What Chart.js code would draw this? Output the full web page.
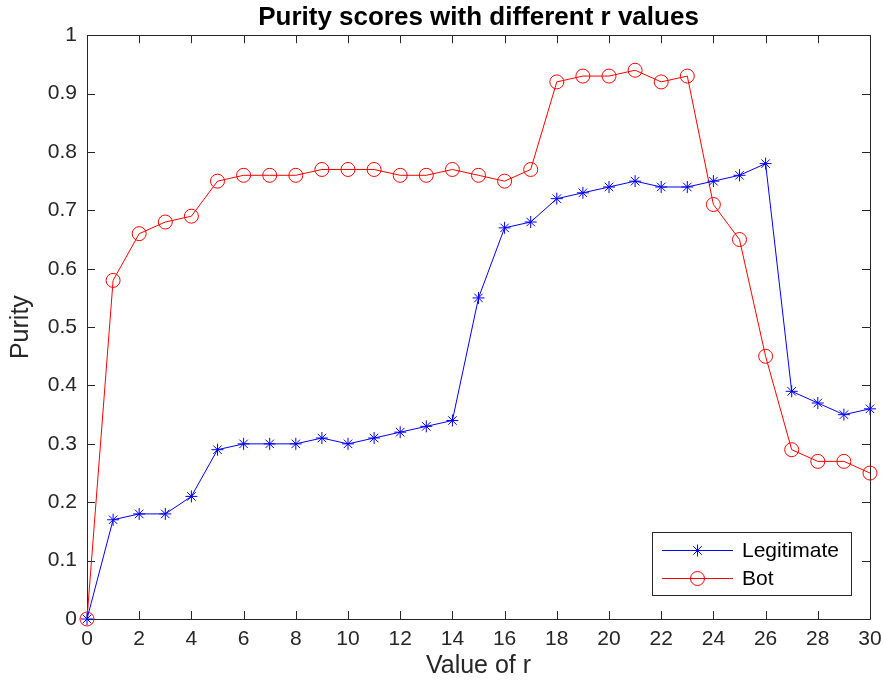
<!DOCTYPE html>
<html>
<head>
<meta charset="utf-8">
<script src="https://cdn.jsdelivr.net/npm/chart.js@4/dist/chart.umd.min.js"></script>
<style>
html,body{margin:0;padding:0;background:#fff;}
canvas{display:block;}
</style>
</head>
<body>
<canvas id="c" width="884" height="693"></canvas>
<script>
const rValues = [0,1,2,3,4,5,6,7,8,9,10,11,12,13,14,15,16,17,18,19,20,21,22,23,24,25,26,27,28,29,30];
const legitimate = [0,0.17,0.18,0.18,0.21,0.29,0.30,0.30,0.30,0.31,0.30,0.31,0.32,0.33,0.34,0.55,0.67,0.68,0.72,0.73,0.74,0.75,0.74,0.74,0.75,0.76,0.78,0.39,0.37,0.35,0.36];
const bot = [0,0.58,0.66,0.68,0.69,0.75,0.76,0.76,0.76,0.77,0.77,0.77,0.76,0.76,0.77,0.76,0.75,0.77,0.92,0.93,0.93,0.94,0.92,0.93,0.71,0.65,0.45,0.29,0.27,0.27,0.25];
const seriesLabels = ['Legitimate','Bot'];
const xTicks = [0,2,4,6,8,10,12,14,16,18,20,22,24,26,28,30];
const yTicks = [0,0.1,0.2,0.3,0.4,0.5,0.6,0.7,0.8,0.9,1];

const FONT = "'Liberation Sans', Arial, Helvetica, sans-serif";
const AX = '#262626';

function pts(vals){ return rValues.map((x,i)=>({x:x,y:vals[i]})); }

const boxPlugin = {
  id:'boxTicks',
  beforeDatasetsDraw(chart){
    const {ctx, chartArea:a, scales:{x,y}} = chart;
    ctx.save();
    ctx.strokeStyle = AX; ctx.lineWidth = 1;
    ctx.beginPath();
    ctx.rect(Math.round(a.left)+0.5, Math.round(a.top)+0.5, Math.round(a.right-a.left), Math.round(a.bottom-a.top));
    ctx.stroke();
    const tl = 8;
    ctx.beginPath();
    xTicks.forEach(v=>{
      const px = Math.round(x.getPixelForValue(v))+0.5;
      ctx.moveTo(px, a.bottom); ctx.lineTo(px, a.bottom-tl);
      ctx.moveTo(px, a.top); ctx.lineTo(px, a.top+tl);
    });
    yTicks.forEach(v=>{
      const py = Math.round(y.getPixelForValue(v))+0.5;
      ctx.moveTo(a.left, py); ctx.lineTo(a.left+tl, py);
      ctx.moveTo(a.right, py); ctx.lineTo(a.right-tl, py);
    });
    ctx.stroke();
    ctx.restore();
  },
  afterDraw(chart){
    const {ctx, chartArea:a} = chart;
    const R = Math.round(a.right) - 19, B = Math.round(a.bottom) - 24;
    const L = R - 199, T = B - 63;
    ctx.save();
    ctx.fillStyle = '#fff';
    ctx.fillRect(L, T, R-L, B-T);
    ctx.strokeStyle = AX; ctx.lineWidth = 1;
    ctx.strokeRect(L+0.5, T+0.5, R-L, B-T);
    chart.data.datasets.forEach((ds,i)=>{
      const yy = T + 18 + i*28 + 0.5;
      ctx.strokeStyle = ds.borderColor; ctx.lineWidth = 1;
      ctx.beginPath(); ctx.moveTo(L+10, yy); ctx.lineTo(L+81, yy); ctx.stroke();
      const cx = L+45.5;
      ctx.beginPath();
      if (ds.pointStyle === 'circle') {
        ctx.arc(cx, yy, ds.pointRadius, 0, Math.PI*2);
      } else {
        const r = ds.pointRadius;
        const d = r*Math.SQRT1_2;
        ctx.moveTo(cx-r,yy); ctx.lineTo(cx+r,yy);
        ctx.moveTo(cx,yy-r); ctx.lineTo(cx,yy+r);
        ctx.moveTo(cx-d,yy-d); ctx.lineTo(cx+d,yy+d);
        ctx.moveTo(cx-d,yy+d); ctx.lineTo(cx+d,yy-d);
      }
      ctx.stroke();
      ctx.fillStyle = '#000';
      ctx.font = '21px ' + FONT;
      ctx.textBaseline = 'middle'; ctx.textAlign = 'left';
      ctx.fillText(ds.label, L+90, yy+1);
    });
    ctx.restore();
  }
};

new Chart(document.getElementById('c'), {
  type:'line',
  data:{
    datasets:[
      {label:seriesLabels[0], data:pts(legitimate), borderColor:'#0000ff', backgroundColor:'#0000ff',
       borderWidth:1, pointStyle:'star', pointRadius:6, pointBorderWidth:1, pointBorderColor:'#0000ff',
       pointBackgroundColor:'#0000ff', tension:0, clip:false},
      {label:seriesLabels[1], data:pts(bot), borderColor:'#ff0000', backgroundColor:'#ff0000',
       borderWidth:1, pointStyle:'circle', pointRadius:7, pointBorderWidth:1, pointBorderColor:'#ff0000',
       pointBackgroundColor:'rgba(0,0,0,0)', tension:0, clip:false}
    ]
  },
  options:{
    responsive:false,
    animation:false,
    events:[],
    layout:{padding:{left:0,right:14,top:0,bottom:0}},
    plugins:{
      legend:{display:false},
      tooltip:{enabled:false},
      title:{display:true, fullSize:false, text:'Purity scores with different r values', color:'#000',
        font:{family:FONT, size:26, weight:'bold'}, padding:{top:2,bottom:2}}
    },
    scales:{
      x:{type:'linear', min:0, max:30,
        afterBuildTicks(s){ s.ticks = xTicks.map(v=>({value:v})); },
        afterFit(s){ s.height = 74; s.paddingLeft = 0; s.paddingRight = 0; },
        grid:{display:false, drawTicks:false}, border:{display:false},
        ticks:{color:AX, font:{family:FONT, size:21}, padding:8, maxRotation:0, autoSkip:false,
          callback:(v)=>String(v)},
        title:{display:true, text:'Value of r', color:AX, font:{family:FONT, size:25}, padding:{top:0,bottom:12}}
      },
      y:{type:'linear', min:0, max:1,
        afterBuildTicks(s){ s.ticks = yTicks.map(v=>({value:v})); },
        afterFit(s){ s.width = 87; s.paddingTop = 0; s.paddingBottom = 0; },
        grid:{display:false, drawTicks:false}, border:{display:false},
        ticks:{color:AX, font:{family:FONT, size:21}, padding:10, autoSkip:false,
          callback:(v)=>String(Math.round(v*10)/10)},
        title:{display:true, text:'Purity', color:AX, font:{family:FONT, size:25}, padding:{top:6,bottom:0}}
      }
    }
  },
  plugins:[boxPlugin]
});
</script>
</body>
</html>
